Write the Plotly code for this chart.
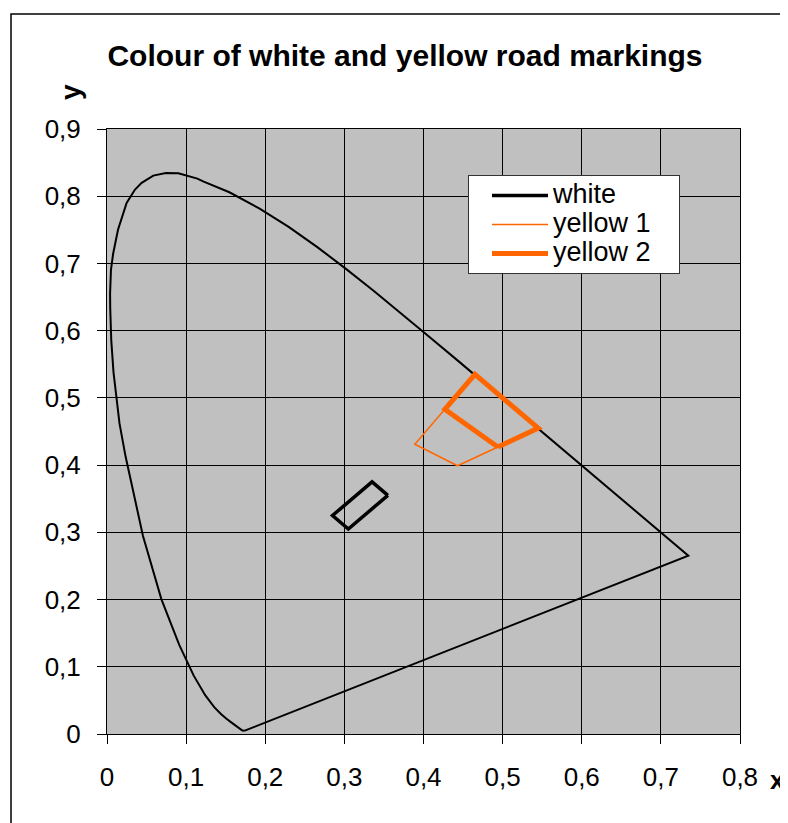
import plotly.graph_objects as go

# CIE 1931 spectral locus (380 nm ... 700 nm), denser in the strongly curved part
locus_x = [0.1741, 0.1740, 0.1738, 0.1736, 0.1733, 0.1730, 0.1726, 0.1721, 0.1714, 0.1703,
           0.1689, 0.1669, 0.1644, 0.1611, 0.1566, 0.1510, 0.1440, 0.1355, 0.1241, 0.1096,
           0.0913, 0.0687, 0.0454, 0.0235, 0.0158, 0.0082, 0.0054, 0.0041, 0.0039, 0.0050,
           0.0077, 0.0139, 0.0185, 0.0248, 0.0354, 0.0438, 0.0585, 0.0743, 0.0902, 0.1059,
           0.1142, 0.1222, 0.1386, 0.1547, 0.1929, 0.2296, 0.2658, 0.3016, 0.3373, 0.3731,
           0.4087, 0.4441, 0.4788, 0.5125, 0.5448, 0.5752, 0.6029, 0.6270, 0.6482, 0.6658,
           0.6801, 0.6915, 0.7006, 0.7079, 0.7140, 0.7190, 0.7230, 0.7260, 0.7283, 0.7300,
           0.7311, 0.7320, 0.7327, 0.7334, 0.7340, 0.7344, 0.7346, 0.7347]
locus_y = [0.0050, 0.0050, 0.0049, 0.0049, 0.0048, 0.0048, 0.0048, 0.0048, 0.0051, 0.0058,
           0.0069, 0.0086, 0.0109, 0.0138, 0.0177, 0.0227, 0.0297, 0.0399, 0.0578, 0.0868,
           0.1327, 0.2007, 0.2950, 0.4127, 0.4620, 0.5384, 0.5856, 0.6329, 0.6548, 0.6906,
           0.7140, 0.7502, 0.7677, 0.7900, 0.8099, 0.8198, 0.8307, 0.8345, 0.8340, 0.8293,
           0.8262, 0.8216, 0.8139, 0.8059, 0.7816, 0.7543, 0.7243, 0.6923, 0.6589, 0.6245,
           0.5896, 0.5547, 0.5202, 0.4866, 0.4544, 0.4242, 0.3965, 0.3725, 0.3514, 0.3340,
           0.3197, 0.3083, 0.2993, 0.2920, 0.2859, 0.2809, 0.2770, 0.2740, 0.2717, 0.2700,
           0.2689, 0.2680, 0.2673, 0.2666, 0.2660, 0.2656, 0.2654, 0.2653]

white_x = [0.355, 0.305, 0.285, 0.335, 0.355]
white_y = [0.355, 0.305, 0.325, 0.375, 0.355]

yellow1_x = [0.443, 0.545, 0.465, 0.389, 0.443]
yellow1_y = [0.399, 0.455, 0.535, 0.431, 0.399]

yellow2_x = [0.494, 0.545, 0.465, 0.427, 0.494]
yellow2_y = [0.427, 0.455, 0.535, 0.483, 0.427]

series_names = ["white", "yellow 1", "yellow 2"]

x_ticks = [0, 0.1, 0.2, 0.3, 0.4, 0.5, 0.6, 0.7, 0.8]
x_tick_labels = ["0", "0,1", "0,2", "0,3", "0,4", "0,5", "0,6", "0,7", "0,8"]
y_ticks = [0, 0.1, 0.2, 0.3, 0.4, 0.5, 0.6, 0.7, 0.8, 0.9]
y_tick_labels = ["0", "0,1", "0,2", "0,3", "0,4", "0,5", "0,6", "0,7", "0,8", "0,9"]

FONT = "Liberation Sans, Arial, sans-serif"
ORANGE = "#FF6600"

def leg(name):
    return "<span style='font-size:27px'>" + name + "\u00a0\u00a0\u00a0</span>"

fig = go.Figure()
fig.add_trace(go.Scatter(x=locus_x + [locus_x[0]], y=locus_y + [locus_y[0]], mode="lines",
                         line=dict(color="black", width=2), showlegend=False, hoverinfo="skip"))
fig.add_trace(go.Scatter(x=white_x, y=white_y, mode="lines", name=leg(series_names[0]),
                         line=dict(color="black", width=3.5)))
fig.add_trace(go.Scatter(x=yellow1_x, y=yellow1_y, mode="lines", name=leg(series_names[1]),
                         line=dict(color=ORANGE, width=1.5)))
fig.add_trace(go.Scatter(x=yellow2_x, y=yellow2_y, mode="lines", name=leg(series_names[2]),
                         line=dict(color=ORANGE, width=5)))

# page is offset by the 8px body margin
OFF = 8
W, H = 780, 815
L, R, T, B = 99, 48, 121, 89
pw, ph = W - L - R, H - T - B

def px_x(p):
    return (p - OFF - L) / pw

def px_y(p):
    return (H - B - (p - OFF)) / ph

axis_common = dict(showgrid=True, gridcolor="black", gridwidth=1, zeroline=False,
                   showline=True, linecolor="black", linewidth=1, mirror=True,
                   ticks="outside", ticklen=9, tickcolor="black", tickwidth=1,
                   tickfont=dict(family=FONT, size=26, color="black"))

fig.update_layout(
    width=W, height=H,
    margin=dict(l=L, r=R, t=T, b=B),
    paper_bgcolor="white", plot_bgcolor="#C0C0C0",
    font=dict(family=FONT, color="black"),
    title=dict(text="<b>Colour of white and yellow road markings</b>",
               x=(405 - OFF) / W, xref="container", xanchor="center",
               y=1 - (55 - OFF) / H, yref="container", yanchor="middle",
               font=dict(family=FONT, size=30, color="black")),
    xaxis=dict(range=[0, 0.8], tickvals=x_ticks, ticktext=x_tick_labels,
               ticklabelstandoff=11, **axis_common),
    yaxis=dict(range=[0, 0.9], tickvals=y_ticks, ticktext=y_tick_labels,
               ticklabelstandoff=11, **axis_common),
    legend=dict(x=px_x(468), y=px_y(175), xanchor="left", yanchor="top",
                bgcolor="white", bordercolor="#333333", borderwidth=1,
                font=dict(family=FONT, size=20, color="black"),
                itemwidth=56, indentation=18, tracegroupgap=0),
    showlegend=True,
    shapes=[dict(type="rect", xref="paper", yref="paper",
                 x0=px_x(11), x1=px_x(800), y0=px_y(835), y1=px_y(14),
                 line=dict(color="black", width=1.5), fillcolor="rgba(0,0,0,0)", layer="above")],
    annotations=[
        dict(text="<b>y</b>", xref="paper", yref="paper", x=px_x(70), y=px_y(92),
             showarrow=False, textangle=-90, xanchor="center", yanchor="middle",
             font=dict(family=FONT, size=28, color="black")),
        dict(text="<b>x</b>", xref="paper", yref="paper", x=px_x(787), y=px_y(780),
             showarrow=False, xanchor="right", yanchor="middle",
             font=dict(family=FONT, size=26, color="black")),
    ],
)

fig.write_html("out.html")
